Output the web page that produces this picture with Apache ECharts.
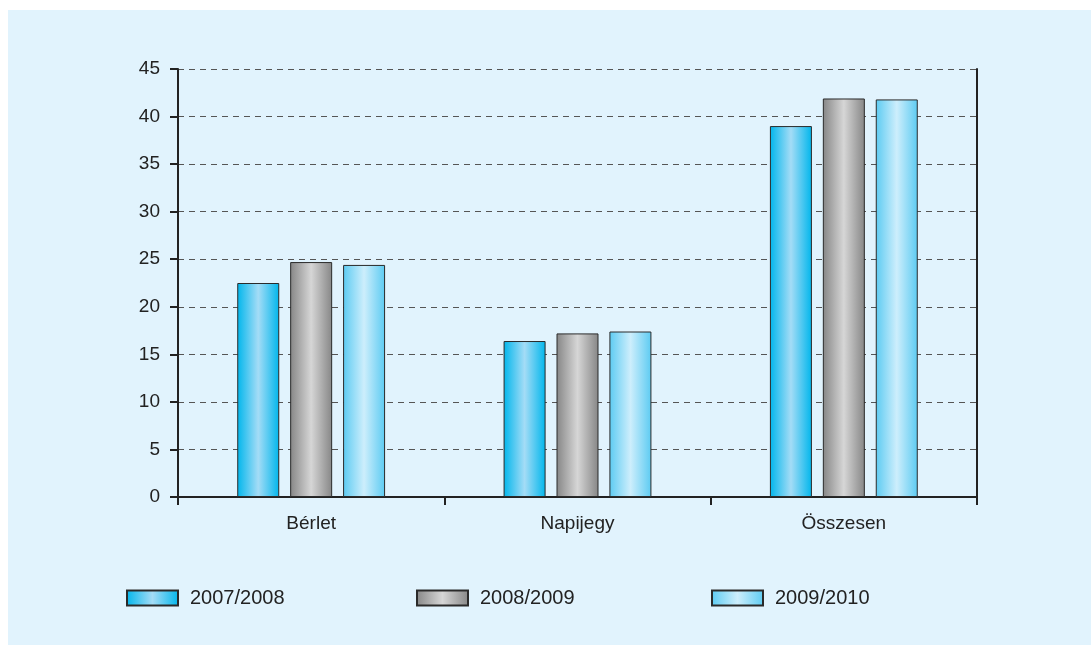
<!DOCTYPE html>
<html>
<head>
<meta charset="utf-8">
<script src="https://cdn.jsdelivr.net/npm/echarts@6/dist/echarts.min.js"></script>
<style>
  html, body { margin: 0; padding: 0; background: #ffffff; }
  #wrap { position: absolute; left: 8px; top: 10px; right: 0; bottom: 0; background: #e1f3fd; }
  #chart { position: absolute; left: 0; top: 0; width: 1091px; height: 645px; }
</style>
</head>
<body>
<div id="wrap"></div>
<div id="chart"></div>
<script>
const categories = ["Bérlet", "Napijegy", "Összesen"];
const seriesNames = ["2007/2008", "2008/2009", "2009/2010"];
const values2007 = [22.5, 16.4, 39.0];
const values2008 = [24.7, 17.2, 41.9];
const values2009 = [24.4, 17.4, 41.8];

const grad = (edge, mid) => new echarts.graphic.LinearGradient(0, 0, 1, 0, [
  { offset: 0, color: edge },
  { offset: 0.5, color: mid },
  { offset: 1, color: edge },
]);

const fills = [
  grad("#00b6ec", "#a4dcf6"),
  grad("#868686", "#d6d6d6"),
  grad("#5ccbf2", "#cdeefc"),
];
const data = [values2007, values2008, values2009];

const chart = echarts.init(document.getElementById("chart"), null, { renderer: "canvas" });

const font = "Liberation Sans, Arial, sans-serif";
const legendLefts = [126, 416, 711];

const option = {
  backgroundColor: "transparent",
  animation: false,
  textStyle: { fontFamily: font },
  grid: { left: 178, right: 114, top: 69, bottom: 148 },
  legend: seriesNames.map((name, i) => ({
    data: [name],
    left: legendLefts[i],
    top: 588,
    padding: 0,
    itemWidth: 51,
    itemHeight: 15,
    itemGap: 0,
    textStyle: { fontSize: 20, color: "#222", fontFamily: font, padding: [0, 0, 0, 7] },
    selectedMode: false,
    icon: "rect",
  })),
  xAxis: {
    type: "category",
    data: categories,
    axisLine: { lineStyle: { color: "#222", width: 2 } },
    axisTick: { show: true, length: 8, lineStyle: { color: "#222", width: 2 } },
    axisLabel: { fontSize: 19, color: "#222", margin: 17, fontFamily: font },
  },
  yAxis: [
    {
      type: "value",
      min: 0,
      max: 45,
      interval: 5,
      axisLine: { show: true, lineStyle: { color: "#222", width: 2 } },
      axisTick: { show: true, length: 8, lineStyle: { color: "#222", width: 2 } },
      axisLabel: { fontSize: 19, color: "#222", margin: 18, fontFamily: font },
      splitLine: { show: true, lineStyle: { color: "#555", type: [6, 5], width: 1 } },
    },
    {
      type: "value",
      min: 0,
      max: 45,
      interval: 5,
      position: "right",
      axisLine: { show: true, lineStyle: { color: "#222", width: 2 } },
      axisTick: { show: false },
      axisLabel: { show: false },
      splitLine: { show: false },
    },
  ],
  series: seriesNames.map((name, i) => ({
    name,
    type: "bar",
    data: data[i],
    barWidth: 42,
    barGap: "26%",
    itemStyle: { color: fills[i], borderColor: "#2a2a2a", borderWidth: 1 },
  })),
};

chart.setOption(option);
</script>
</body>
</html>
